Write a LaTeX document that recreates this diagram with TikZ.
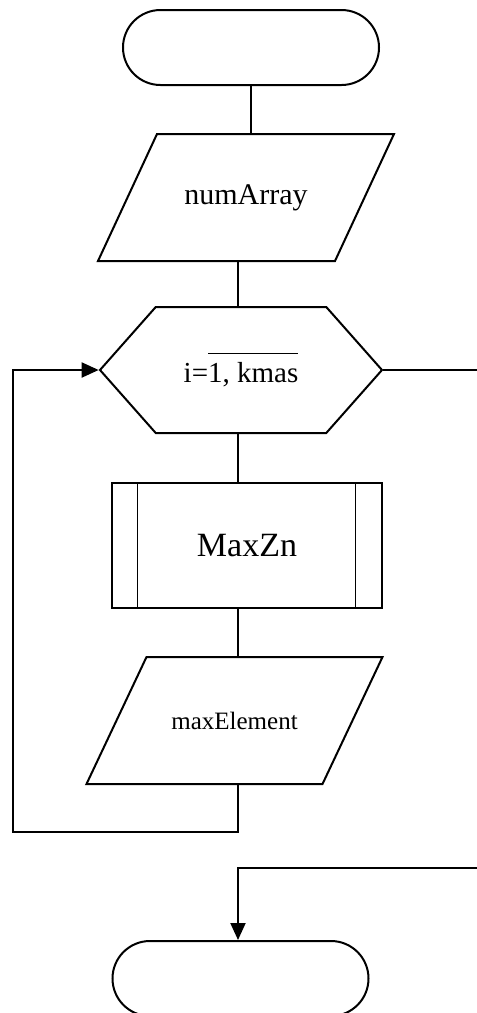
\documentclass[tikz,border=0pt]{standalone}
\usepackage{fontspec}
\setmainfont{Liberation Serif}
\usetikzlibrary{shapes.symbols}
\usetikzlibrary{arrows.meta}
\tikzset{>={Triangle[length=17pt,width=15pt]}}
\tikzset{term/.style={draw, rectangle, rounded corners=37.5pt, minimum width=256pt, minimum height=75pt}}
\tikzset{io/.style={rectangle, minimum width=294pt, minimum height=125pt, inner sep=0pt}}
\tikzset{cyc/.style={draw, signal, signal to=west and east, signal pointer angle=97, minimum width=282pt, minimum height=126pt, inner sep=0pt}}
\tikzset{proc/.style={draw, rectangle, minimum width=270pt, minimum height=125pt}}
\newcommand{\txt}[1]{\fontsize{#1}{#1}\selectfont}

\begin{document}
\begin{tikzpicture}[x=1pt, y=-1pt, line width=2pt]
\useasboundingbox (0,0) rectangle (477,1013);
\coordinate (axis) at (238,0);

\node[term] (start) at (251,47.5) {};
\node[io, font=\txt{30pt}] (in1) at (246,197.5) {numArray};
\node[cyc, font=\txt{29pt}] (loop) at (241,370) {i=$\overline{\mbox{\rule{0pt}{0.95em}1, kmas}}$};
\node[proc, font=\txt{34pt}] (mz) at (247,545.5) {MaxZn};
\node[io, font=\txt{25pt}] (out1) at (234.5,720.5) {maxElement};
\node[term] (end) at (240.5,978.5) {};

% parallelograms
\draw (in1.south west) -- ([xshift=59pt]in1.north west) -- (in1.north east) -- ([xshift=-59pt]in1.south east) -- cycle;
\draw (out1.south west) -- ([xshift=60pt]out1.north west) -- (out1.north east) -- ([xshift=-60pt]out1.south east) -- cycle;

\draw[line width=1pt] ([xshift=26pt]mz.north west) -- ([xshift=26pt]mz.south west);
\draw[line width=1pt] ([xshift=-28pt]mz.north east) -- ([xshift=-28pt]mz.south east);

\draw (start) -- (start |- in1.north);
\draw (in1.south -| axis) -- (loop.north -| axis);
\draw (loop.south -| axis) -- (mz.north -| axis);
\draw (mz.south -| axis) -- (out1.north -| axis);

% loop back
\coordinate (back) at (13,832);
\draw[->] (out1.south -| axis) -- (axis |- back) -- (back) |- (loop.west);

% exit
\coordinate (rexit) at (477,370);
\coordinate (bexit) at (477,868);
\draw (loop.east) -- (rexit);
\draw[->] (bexit) -| (end.north -| axis);
\end{tikzpicture}
\end{document}
